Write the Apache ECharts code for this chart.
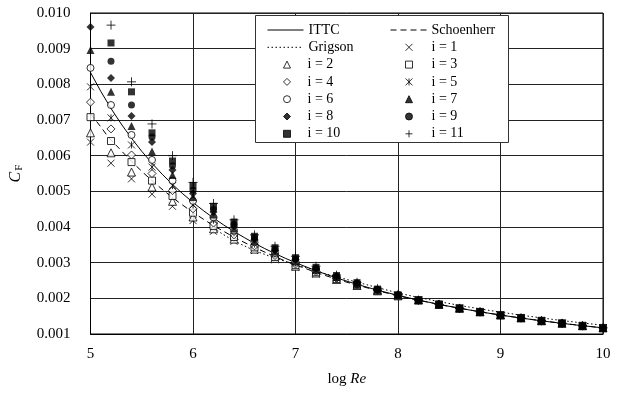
<!DOCTYPE html>
<html><head><meta charset="utf-8">
<script src="https://cdn.jsdelivr.net/npm/echarts@6/dist/echarts.min.js"></script>
<style>html,body{margin:0;padding:0;background:#fff}#c{width:619px;height:404px}</style>
</head><body><div id="c"></div>
<script>
// x positions (log Re)
var xs = [5.0,5.2,5.4,5.6,5.8,6.0,6.2,6.4,6.6,6.8,7.0,7.2,7.4,7.6,7.8,8.0,8.2,8.4,8.6,8.8,9.0,9.2,9.4,9.6,9.8,10.0];
// measured series i = 1 .. 11
var s1  = [.00638,.00579,.00535,.00492,.00458,.00418,.00388,.00360,.00334,.00308,.00287,.00268,.00251,.00235,.00220,.00206,.00195,.00183,.00172,.00162,.00153,.00145,.00137,.00130,.00123,.00117];
var s2  = [.00664,.00608,.00554,.00512,.00472,.00428,.00395,.00366,.00338,.00312,.00290,.00271,.00253,.00236,.00221,.00207,.00195,.00183,.00172,.00162,.00153,.00145,.00137,.00130,.00123,.00117];
var s3  = [.00708,.00641,.00582,.00530,.00487,.00440,.00403,.00372,.00343,.00316,.00293,.00273,.00254,.00237,.00221,.00207,.00195,.00183,.00172,.00162,.00153,.00145,.00137,.00130,.00123,.00117];
var s4  = [.00750,.00675,.00602,.00550,.00502,.00451,.00411,.00378,.00347,.00320,.00296,.00275,.00256,.00238,.00222,.00208,.00195,.00183,.00172,.00162,.00153,.00145,.00137,.00130,.00123,.00117];
var s5  = [.00793,.00706,.00630,.00568,.00516,.00462,.00419,.00384,.00352,.00324,.00299,.00277,.00257,.00239,.00223,.00208,.00195,.00183,.00172,.00162,.00153,.00145,.00137,.00130,.00123,.00117];
var s6  = [.00846,.00742,.00658,.00588,.00530,.00473,.00427,.00390,.00357,.00327,.00302,.00279,.00258,.00240,.00223,.00208,.00195,.00183,.00172,.00162,.00153,.00145,.00137,.00130,.00123,.00117];
var s7  = [.00896,.00779,.00683,.00612,.00546,.00484,.00435,.00396,.00361,.00331,.00305,.00281,.00260,.00241,.00224,.00209,.00195,.00183,.00172,.00162,.00153,.00145,.00137,.00130,.00123,.00117];
var s8  = [.00961,.00818,.00711,.00638,.00560,.00494,.00442,.00402,.00365,.00334,.00308,.00283,.00261,.00242,.00225,.00209,.00195,.00183,.00172,.00162,.00153,.00145,.00137,.00130,.00123,.00117];
var s9  = [null,.00865,.00742,.00652,.00572,.00503,.00449,.00408,.00370,.00338,.00311,.00285,.00262,.00243,.00225,.00210,.00195,.00183,.00172,.00162,.00153,.00145,.00137,.00130,.00123,.00117];
var s10 = [null,.00916,.00779,.00664,.00585,.00516,.00458,.00414,.00374,.00342,.00314,.00287,.00264,.00244,.00226,.00210,.00195,.00183,.00172,.00162,.00153,.00145,.00137,.00130,.00123,.00117];
var s11 = [null,.00966,.00807,.00689,.00600,.00525,.00466,.00420,.00378,.00346,.00318,.00290,.00265,.00245,.00227,.00211,.00195,.00183,.00172,.00162,.00153,.00145,.00137,.00130,.00123,.00117];
// friction lines
var ittcX = [5.0,5.1,5.2,5.3,5.4,5.5,5.6,5.7,5.8,5.9,6.0,6.1,6.2,6.3,6.4,6.5,6.6,6.7,6.8,6.9,7.0,7.2,7.4,7.6,7.8,8.0,8.2,8.4,8.6,8.8,9.0,9.2,9.4,9.6,9.8,10.0];
var ittcY = [.008333,.007804,.007324,.006887,.006488,.006122,.005787,.005478,.005194,.004931,.004688,.004462,.004252,.004056,.003874,.003704,.003544,.003395,.003255,.003124,.003000,.002774,.002572,.002392,.002229,.002083,.001951,.001831,.001722,.001622,.001531,.001447,.001370,.001298,.001233,.001172];
var schX = [5.0,5.102,5.179,5.281,5.346,5.450,5.523,5.640,5.723,5.858,5.954,6.111,6.224,6.410,6.547,6.773,6.941,7.226,7.442,7.817,8.110,8.449,8.846,9.072,9.322,9.598,9.907,10.0];
var schY = [.00718,.0068,.0065,.0062,.0060,.0057,.0055,.0052,.0050,.0047,.0045,.0042,.0040,.0037,.0035,.0032,.0030,.0027,.0025,.0022,.0020,.0018,.0016,.0015,.0014,.0013,.0012,.001172];
var grigX = [6.2,6.4,6.6,6.8,7.0,7.2,7.3,8.0,8.2,8.4,8.6,8.8,9.0,9.2,9.4,9.6,9.8,10.0];
var grigY = [.003960,.003608,.003338,.003126,.002947,.002774,.002682,.002150,.002024,.001908,.001802,.001704,.001613,.001529,.001451,.001377,.001310,.001246];
var seriesNames = ['i = 1','i = 2','i = 3','i = 4','i = 5','i = 6','i = 7','i = 8','i = 9','i = 10','i = 11'];
var seriesVals = [s1,s2,s3,s4,s5,s6,s7,s8,s9,s10,s11];

var FONT = 'Liberation Serif';
var pX = 'path://M0,0L10,10M10,0L0,10';
var pAst = 'path://M0,0L10,10M10,0L0,10M5,0L5,10';
var pPlus = 'path://M5,0L5,10M0,5L10,5';
var open = {color:'#fff', borderColor:'#000', borderWidth:1};
var fill = {color:'#000', borderColor:'#000', borderWidth:0};
var strk = {color:'rgba(0,0,0,0)', borderColor:'#000', borderWidth:1};
var marks = [
  {symbol:pX, size:7, style:strk},
  {symbol:'triangle', size:8, style:open},
  {symbol:'rect', size:7, style:open},
  {symbol:'diamond', size:8, style:open},
  {symbol:pAst, size:7, style:strk},
  {symbol:'circle', size:7, style:open},
  {symbol:'triangle', size:8, style:fill},
  {symbol:'diamond', size:8, style:fill},
  {symbol:'circle', size:7, style:fill},
  {symbol:'rect', size:7, style:fill},
  {symbol:pPlus, size:9, style:strk}
];

function pairs(xa, ya){ var out=[]; for (var k=0;k<xa.length;k++){ if (ya[k]!=null) out.push([xa[k], ya[k]]); } return out; }

var series = [
  {name:'ITTC', type:'line', data:pairs(ittcX, ittcY), symbol:'none', lineStyle:{color:'#000', width:1, type:'solid'}, itemStyle:{color:'#000'}, z:1},
  {name:'Schoenherr', type:'line', data:pairs(schX, schY), symbol:'none', lineStyle:{color:'#000', width:1, type:[6,4]}, itemStyle:{color:'#000'}, z:1},
  {name:'Grigson', type:'line', data:pairs(grigX, grigY), symbol:'none', lineStyle:{color:'#000', width:1, type:[1.5,2.5]}, itemStyle:{color:'#000'}, z:1}
];
for (var i=0;i<11;i++){
  series.push({name:seriesNames[i], type:'scatter', data:pairs(xs, seriesVals[i]), symbol:marks[i].symbol, symbolSize:marks[i].size, symbolKeepAspect:true, itemStyle:marks[i].style, z:3});
}

var rowH = 17.3, row0 = 30;
var txt = {fontFamily:FONT, fontSize:14, color:'#000', lineHeight:rowH};
function lg(data, left, row, w, h, padL, hideSym){
  var o = {data:data, orient:'vertical', left:left, top:row0 + row*rowH - rowH/2, itemWidth:w, itemHeight:h, itemGap:0, padding:0, selectedMode:false, z:20,
    textStyle:Object.assign({}, txt, {padding:[0,0,0,padL]})};
  if (hideSym) { o.itemStyle = {opacity:0}; o.lineStyle = {width:1}; }
  else { o.itemStyle = {borderWidth:1}; }
  return o;
}

var chart = echarts.init(document.getElementById('c'), null, {renderer:'canvas'});
chart.setOption({
  animation:false,
  backgroundColor:'#fff',
  grid:{left:87, right:16, top:13, bottom:70, show:true, borderColor:'#000', borderWidth:1, backgroundColor:'transparent'},
  xAxis:{type:'value', min:5, max:10, interval:1,
    name:'{n|log }{i|Re}', nameLocation:'middle', nameGap:38,
    nameTextStyle:{rich:{n:{fontFamily:FONT, fontSize:15, color:'#000'}, i:{fontFamily:FONT, fontSize:15, fontStyle:'italic', color:'#000'}}},
    axisLine:{lineStyle:{color:'#000', width:1}}, axisTick:{show:false},
    axisLabel:{fontFamily:FONT, fontSize:15, color:'#000', margin:13},
    splitLine:{show:true, lineStyle:{color:'#222', width:1}}},
  yAxis:{type:'value', min:0.001, max:0.010, interval:0.001,
    name:'{i|C}{s|F}', nameLocation:'middle', nameGap:66, nameRotate:90,
    nameTextStyle:{rich:{i:{fontFamily:FONT, fontSize:16, fontStyle:'italic', color:'#000'}, s:{fontFamily:FONT, fontSize:11, color:'#000', padding:[6,0,0,1]}}},
    axisLine:{lineStyle:{color:'#000', width:1}}, axisTick:{show:false},
    axisLabel:{fontFamily:FONT, fontSize:15, color:'#000', margin:20, formatter:function(v){return v.toFixed(3);}},
    splitLine:{show:true, lineStyle:{color:'#222', width:1}}},
  graphic:[{type:'rect', shape:{x:255.5, y:15.5, width:253, height:127}, style:{fill:'#fff', stroke:'#333', lineWidth:1}, z:10}],
  legend:[
    lg(['ITTC','Grigson'], 267, 0, 36, 8, 0, true),
    lg(['i = 2','i = 4','i = 6','i = 8','i = 10'], 283, 2, 7, 7, 12, false),
    lg(['Schoenherr'], 390, 0, 36, 8, 0, true),
    lg(['i = 1','i = 3','i = 5','i = 7','i = 9','i = 11'], 405, 1, 7, 7, 14, false)
  ],
  series:series
});
</script></body></html>
